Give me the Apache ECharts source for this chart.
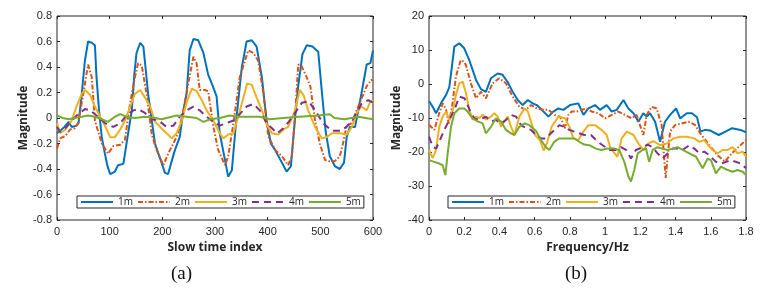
<!DOCTYPE html>
<html>
<head>
<meta charset="utf-8">
<script src="https://cdn.jsdelivr.net/npm/echarts@6/dist/echarts.min.js"></script>
<style>
	html, body { margin: 0; padding: 0; background: #fff; }
	#main { width: 763px; height: 295px; }
</style>
</head>
<body>
<div id="main"></div>
<script>
	// (a) slow time index vs magnitude, [index, value]
	var a1m = [[0,-0.12],[6,-0.1],[14,-0.07],[22,-0.03],[28,-0.07],[37,-0.06],[41,-0.04],[47,0.19],[53,0.45],[59,0.6],[66,0.59],[72,0.57],[75,0.32],[80,0.05],[85,-0.15],[91,-0.28],[96,-0.38],[101,-0.44],[110,-0.42],[116,-0.37],[126,-0.36],[132,-0.2],[142,0.06],[147,0.35],[151,0.51],[158,0.59],[164,0.56],[168,0.4],[173,0.19],[180,-0.02],[186,-0.2],[196,-0.32],[205,-0.43],[211,-0.44],[217,-0.35],[224,-0.25],[233,-0.15],[240,0.06],[246,0.19],[252,0.53],[259,0.62],[268,0.61],[278,0.51],[287,0.34],[294,0.27],[303,0.17],[309,-0.12],[319,-0.33],[325,-0.46],[332,-0.41],[341,0.01],[351,0.4],[360,0.6],[370,0.61],[379,0.56],[389,0.32],[398,-0.02],[406,-0.2],[414,-0.25],[427,-0.35],[436,-0.42],[444,-0.38],[452,0.0],[458,0.25],[466,0.5],[474,0.57],[485,0.56],[496,0.52],[503,0.2],[510,-0.1],[518,-0.3],[528,-0.38],[537,-0.4],[545,-0.35],[550,-0.15],[556,-0.07],[566,-0.07],[578,0.19],[588,0.42],[595,0.43],[600,0.53]];
	var a2m = [[0,-0.24],[6,-0.16],[16,-0.14],[25,-0.09],[34,-0.08],[40,-0.04],[50,0.19],[59,0.42],[66,0.32],[72,-0.02],[85,-0.2],[97,-0.28],[107,-0.22],[120,-0.21],[129,-0.17],[139,0.12],[148,0.32],[154,0.43],[161,0.41],[170,0.19],[180,-0.13],[189,-0.25],[202,-0.37],[211,-0.28],[221,-0.2],[230,-0.12],[240,0.06],[249,0.27],[259,0.48],[265,0.43],[271,0.22],[281,0.22],[287,0.21],[297,-0.07],[306,-0.25],[319,-0.37],[325,-0.3],[335,-0.04],[347,0.32],[357,0.45],[363,0.53],[373,0.51],[382,0.45],[392,0.19],[401,-0.14],[414,-0.25],[427,-0.3],[439,-0.37],[446,-0.3],[452,0.01],[458,0.42],[464,0.41],[474,0.32],[481,0.25],[490,-0.02],[499,-0.2],[509,-0.33],[518,-0.34],[527,-0.34],[537,-0.3],[543,-0.2],[550,-0.06],[560,-0.04],[569,0.06],[578,0.15],[588,0.25],[597,0.3],[600,0.29]];
	var a3m = [[0,-0.04],[6,-0.12],[16,-0.09],[28,-0.02],[37,0.09],[47,0.19],[53,0.22],[63,0.18],[72,0.09],[82,0.01],[91,-0.06],[101,-0.15],[110,-0.15],[120,-0.09],[129,-0.02],[139,0.09],[148,0.19],[158,0.22],[167,0.16],[177,0.09],[186,-0.03],[196,-0.07],[208,-0.12],[218,-0.16],[227,-0.12],[237,-0.02],[246,0.12],[256,0.23],[265,0.21],[275,0.14],[284,0.06],[297,-0.02],[309,-0.12],[316,-0.16],[325,-0.13],[335,-0.12],[344,0.01],[354,0.16],[361,0.27],[370,0.26],[379,0.16],[389,0.06],[398,-0.05],[408,-0.12],[420,-0.13],[430,-0.09],[439,-0.07],[452,0.06],[461,0.22],[468,0.18],[477,0.06],[490,-0.07],[503,-0.16],[512,-0.15],[522,-0.12],[537,-0.12],[550,-0.13],[560,-0.07],[569,0.04],[578,0.09],[588,0.06],[594,0.12],[600,0.14]];
	var a4m = [[0,-0.07],[6,-0.11],[16,-0.08],[28,-0.02],[40,0.03],[53,0.07],[63,0.06],[75,0.02],[91,-0.04],[107,-0.07],[120,-0.04],[132,0.02],[145,0.06],[154,0.07],[167,0.04],[180,-0.01],[193,-0.02],[208,-0.07],[221,-0.06],[233,0.01],[246,0.06],[259,0.09],[271,0.06],[284,0.01],[297,-0.03],[309,-0.06],[322,-0.04],[335,-0.02],[347,0.03],[360,0.09],[373,0.11],[385,0.06],[398,-0.04],[408,-0.08],[418,-0.12],[430,-0.08],[440,-0.03],[452,0.04],[465,0.12],[478,0.13],[490,0.06],[505,-0.04],[522,-0.1],[540,-0.1],[552,-0.06],[562,-0.01],[578,0.11],[591,0.14],[600,0.12]];
	var a5m = [[0,0.02],[11,0.0],[22,-0.01],[34,0.0],[47,0.01],[59,0.02],[72,0.01],[85,-0.01],[97,-0.03],[110,0.01],[120,0.03],[132,0.01],[148,0.0],[167,0.01],[186,0.0],[199,-0.01],[208,0.0],[227,0.02],[246,0.01],[265,0.0],[278,-0.03],[291,-0.01],[309,0.0],[328,0.02],[347,0.01],[366,0.01],[385,0.01],[404,-0.01],[430,0.0],[460,0.01],[496,0.02],[518,0.03],[527,0.0],[546,-0.01],[572,0.01],[600,-0.01]];

	// (b) frequency (Hz) vs magnitude, [freq, value]
	var b1m = [[0,-5],[0.021,-6.7],[0.04,-8.6],[0.068,-5.7],[0.097,-3.2],[0.115,-1],[0.125,3],[0.144,11],[0.172,12],[0.2,10.5],[0.229,7],[0.267,1.2],[0.295,-1.5],[0.323,-2.3],[0.352,1.7],[0.39,3.1],[0.418,2.7],[0.447,0.5],[0.475,-2.3],[0.504,-4.7],[0.532,-6.2],[0.561,-4.7],[0.589,-5.7],[0.612,-6.2],[0.65,-8.1],[0.678,-9.6],[0.706,-8.1],[0.735,-7.2],[0.763,-7.6],[0.801,-6.2],[0.848,-5.7],[0.877,-9.1],[0.905,-7.2],[0.943,-6.2],[0.971,-7.6],[1.009,-6.2],[1.038,-8.1],[1.066,-7.6],[1.104,-4.7],[1.132,-7.2],[1.161,-8.6],[1.189,-11.1],[1.217,-8.6],[1.236,-9.6],[1.255,-8.6],[1.284,-11.1],[1.312,-17],[1.34,-11.1],[1.369,-9.1],[1.403,-7.2],[1.426,-10.1],[1.464,-8.6],[1.493,-8.6],[1.522,-9.8],[1.541,-14],[1.569,-13.5],[1.598,-13.7],[1.645,-15],[1.683,-14],[1.721,-13],[1.769,-13.5],[1.8,-14.2]];
	var b2m = [[0,-12],[0.03,-13.5],[0.058,-8.6],[0.078,-5.7],[0.097,-7.6],[0.112,-11.6],[0.131,-6.7],[0.153,2.2],[0.18,7],[0.2,6.5],[0.21,5.5],[0.238,0.2],[0.267,-4.2],[0.295,-2.3],[0.323,-4.2],[0.361,0.2],[0.399,1.7],[0.437,0.2],[0.475,-3.7],[0.513,-6.7],[0.551,-7.6],[0.58,-6.2],[0.612,-7.2],[0.65,-7.6],[0.678,-7.6],[0.715,-9.1],[0.744,-9.6],[0.773,-13],[0.791,-9.1],[0.81,-8.1],[0.839,-8.1],[0.867,-7.6],[0.896,-7.2],[0.924,-8.1],[0.962,-8.6],[1.0,-10.1],[1.038,-9.1],[1.075,-8.1],[1.113,-9.1],[1.151,-10.1],[1.179,-9.1],[1.198,-12.1],[1.217,-15],[1.236,-9.1],[1.264,-6.7],[1.293,-7.2],[1.321,-12.1],[1.344,-27.6],[1.369,-14],[1.397,-12.1],[1.435,-11.6],[1.473,-11.1],[1.51,-12],[1.54,-14.5],[1.57,-16.5],[1.6,-18.5],[1.64,-21],[1.68,-22.8],[1.72,-20.4],[1.76,-18.4],[1.8,-16.5]];
	var b3m = [[0,-19.4],[0.021,-21.8],[0.04,-19.4],[0.058,-12.6],[0.078,-9.6],[0.097,-8.1],[0.115,-10.5],[0.135,-7.6],[0.153,-3.2],[0.172,0.2],[0.191,0.7],[0.21,-2.7],[0.229,-7.6],[0.248,-10.5],[0.267,-9.6],[0.286,-10],[0.305,-9],[0.323,-10.5],[0.352,-9.6],[0.371,-8.6],[0.39,-9.6],[0.409,-12.6],[0.428,-11],[0.447,-9.6],[0.466,-12.6],[0.485,-15],[0.513,-9.6],[0.542,-7.2],[0.561,-8],[0.579,-11],[0.602,-15],[0.63,-16.5],[0.652,-19.6],[0.672,-17],[0.697,-12.5],[0.735,-9.6],[0.773,-10.1],[0.801,-13],[0.82,-16],[0.848,-16.5],[0.877,-14],[0.905,-12.1],[0.943,-12.1],[0.98,-13.5],[1.009,-15],[1.028,-18.5],[1.046,-19.9],[1.07,-21.4],[1.094,-16],[1.123,-14],[1.161,-15],[1.189,-17.5],[1.217,-19.4],[1.246,-17.5],[1.274,-16.8],[1.312,-18],[1.35,-17.5],[1.388,-16],[1.426,-15.5],[1.464,-15.5],[1.506,-16],[1.535,-17],[1.563,-16.5],[1.582,-17.8],[1.61,-19.4],[1.639,-20.4],[1.667,-19.4],[1.696,-19.4],[1.724,-18.6],[1.752,-20.4],[1.781,-19.9],[1.8,-21.4]];
	var b4m = [[0,-15.5],[0.021,-18.4],[0.04,-19],[0.058,-17],[0.087,-13.5],[0.115,-10.6],[0.144,-7.6],[0.172,-3.7],[0.201,-4.2],[0.219,-6.2],[0.238,-8.6],[0.257,-10.1],[0.286,-10.6],[0.323,-9.6],[0.352,-11],[0.38,-10.6],[0.409,-11.6],[0.437,-10.6],[0.466,-9.1],[0.494,-9.6],[0.523,-12.1],[0.551,-13],[0.579,-13.5],[0.608,-15],[0.636,-16],[0.664,-16],[0.692,-14.5],[0.721,-13.1],[0.74,-12.1],[0.768,-12.6],[0.797,-13.5],[0.825,-14],[0.853,-14.5],[0.882,-15],[0.92,-15],[0.958,-17],[0.986,-18],[1.024,-19.4],[1.062,-19.4],[1.09,-18.6],[1.119,-19.4],[1.147,-21.9],[1.175,-19.4],[1.213,-18.6],[1.241,-17.8],[1.27,-18.6],[1.298,-20.4],[1.326,-21.9],[1.355,-20.4],[1.383,-19],[1.412,-19],[1.44,-19.4],[1.478,-18],[1.506,-19],[1.535,-20.4],[1.563,-19.9],[1.591,-20.9],[1.629,-22.9],[1.658,-23.4],[1.686,-22.9],[1.714,-22.4],[1.743,-22.9],[1.771,-23.4],[1.8,-24.8]];
	var b5m = [[0,-22.4],[0.03,-22.9],[0.058,-23.4],[0.078,-23.9],[0.093,-26.8],[0.106,-20.4],[0.125,-12.6],[0.144,-8.6],[0.172,-7.2],[0.201,-7.2],[0.219,-8.1],[0.248,-10.1],[0.276,-11],[0.305,-11.6],[0.323,-14.5],[0.352,-12.6],[0.38,-10.1],[0.409,-11],[0.437,-13.5],[0.466,-14.5],[0.485,-15],[0.513,-12.6],[0.542,-11.6],[0.57,-12.1],[0.608,-13.8],[0.636,-16.5],[0.664,-18.6],[0.683,-19.4],[0.711,-17],[0.74,-16],[0.768,-16],[0.797,-16],[0.825,-16],[0.853,-17],[0.882,-17.8],[0.91,-18],[0.948,-19],[0.977,-19.4],[1.014,-19],[1.052,-19],[1.08,-19.4],[1.109,-22.9],[1.133,-27.3],[1.147,-28.7],[1.166,-25.2],[1.185,-20.4],[1.213,-19.4],[1.232,-19],[1.25,-22.9],[1.27,-19.4],[1.298,-18.6],[1.326,-19],[1.355,-19.4],[1.383,-19],[1.412,-18.6],[1.44,-19.4],[1.478,-20.4],[1.516,-21.4],[1.554,-24.8],[1.582,-22],[1.601,-22.4],[1.629,-26.3],[1.658,-24.3],[1.696,-25.3],[1.724,-25.8],[1.752,-25.3],[1.781,-25.8],[1.8,-26.8]];

	var names = ['1m', '2m', '3m', '4m', '5m'];
	var colors = ['#0072BD', '#D95319', '#EDB120', '#7E2F8E', '#77AC30'];
	var dashes = ['solid', [5, 2, 1.5, 2], 'solid', [7, 5], 'solid'];

	var axisColor = '#262626';
	var tickFont = { color: axisColor, fontSize: 11, fontFamily: 'Liberation Sans' };
	var nameFont = { color: axisColor, fontSize: 12, fontWeight: 'bold', fontFamily: 'Open Sans' };

	function xAx(grid, min, max, step, name, isTop) {
		return {
			type: 'value', gridIndex: grid, min: min, max: max, interval: step,
			position: isTop ? 'top' : 'bottom',
			name: isTop ? '' : name, nameLocation: 'middle', nameGap: 20, nameTextStyle: nameFont,
			axisLine: { show: false, onZero: false },
			axisTick: { show: true, inside: true, length: 3, lineStyle: { color: axisColor } },
			axisLabel: { show: !isTop, margin: 6, textStyle: tickFont },
			splitLine: { show: false }
		};
	}
	function yAx(grid, min, max, step, isRight) {
		return {
			type: 'value', gridIndex: grid, min: min, max: max, interval: step,
			position: isRight ? 'right' : 'left',
			name: isRight ? '' : 'Magnitude', nameLocation: 'middle', nameGap: 26, nameTextStyle: nameFont,
			axisLine: { show: false, onZero: false },
			axisTick: { show: true, inside: true, length: 3, lineStyle: { color: axisColor } },
			axisLabel: { show: !isRight, margin: 5, textStyle: tickFont },
			splitLine: { show: false }
		};
	}

	var dataA = [a1m, a2m, a3m, a4m, a5m];
	var dataB = [b1m, b2m, b3m, b4m, b5m];
	var series = [];
	for (var p = 0; p < 2; p++) {
		for (var i = 0; i < names.length; i++) {
			series.push({
				name: names[i],
				type: 'line',
				xAxisIndex: p * 2,
				yAxisIndex: p * 2,
				data: p == 0 ? dataA[i] : dataB[i],
				symbol: 'none',
				animation: false,
				clip: true,
				lineStyle: { color: colors[i], width: 2, type: dashes[i] },
				itemStyle: { color: colors[i] }
			});
		}
	}

	//legend: line only, no marker
	function legendAt(left) {
		return {
			data: names, left: left, top: 196, orient: 'horizontal',
			itemWidth: 32, itemHeight: 8, itemGap: 4,
			padding: [1, 3, 1, 3],
			borderColor: axisColor, borderWidth: 1, backgroundColor: '#fff',
			selectedMode: false,
			itemStyle: { color: 'rgba(0,0,0,0)', borderWidth: 0, opacity: 0 },
			textStyle: { color: axisColor, fontSize: 10, fontFamily: 'Open Sans' }
		};
	}

	var option = {
		backgroundColor: '#fff',
		animation: false,
		grid: [
			{ left: 57, top: 16, width: 316, height: 204, show: true, borderColor: axisColor, borderWidth: 1, backgroundColor: '#fff' },
			{ left: 429, top: 16, width: 317, height: 204, show: true, borderColor: axisColor, borderWidth: 1, backgroundColor: '#fff' }
		],
		xAxis: [
			xAx(0, 0, 600, 100, 'Slow time index', false),
			xAx(0, 0, 600, 100, '', true),
			xAx(1, 0, 1.8, 0.2, 'Frequency/Hz', false),
			xAx(1, 0, 1.8, 0.2, '', true)
		],
		yAxis: [
			yAx(0, -0.8, 0.8, 0.2, false),
			yAx(0, -0.8, 0.8, 0.2, true),
			yAx(1, -40, 20, 10, false),
			yAx(1, -40, 20, 10, true)
		],
		legend: [legendAt(77), legendAt(448)],
		series: series,
		graphic: [
			{ type: 'text', left: 171, top: 265, style: { text: '(a)', fontSize: 19, fontFamily: 'Liberation Serif', fill: '#111' } },
			{ type: 'text', left: 565, top: 265, style: { text: '(b)', fontSize: 19, fontFamily: 'Liberation Serif', fill: '#111' } }
		]
	};

	var myChart = echarts.init(document.getElementById('main'));
	myChart.setOption(option);
</script>
</body>
</html>
